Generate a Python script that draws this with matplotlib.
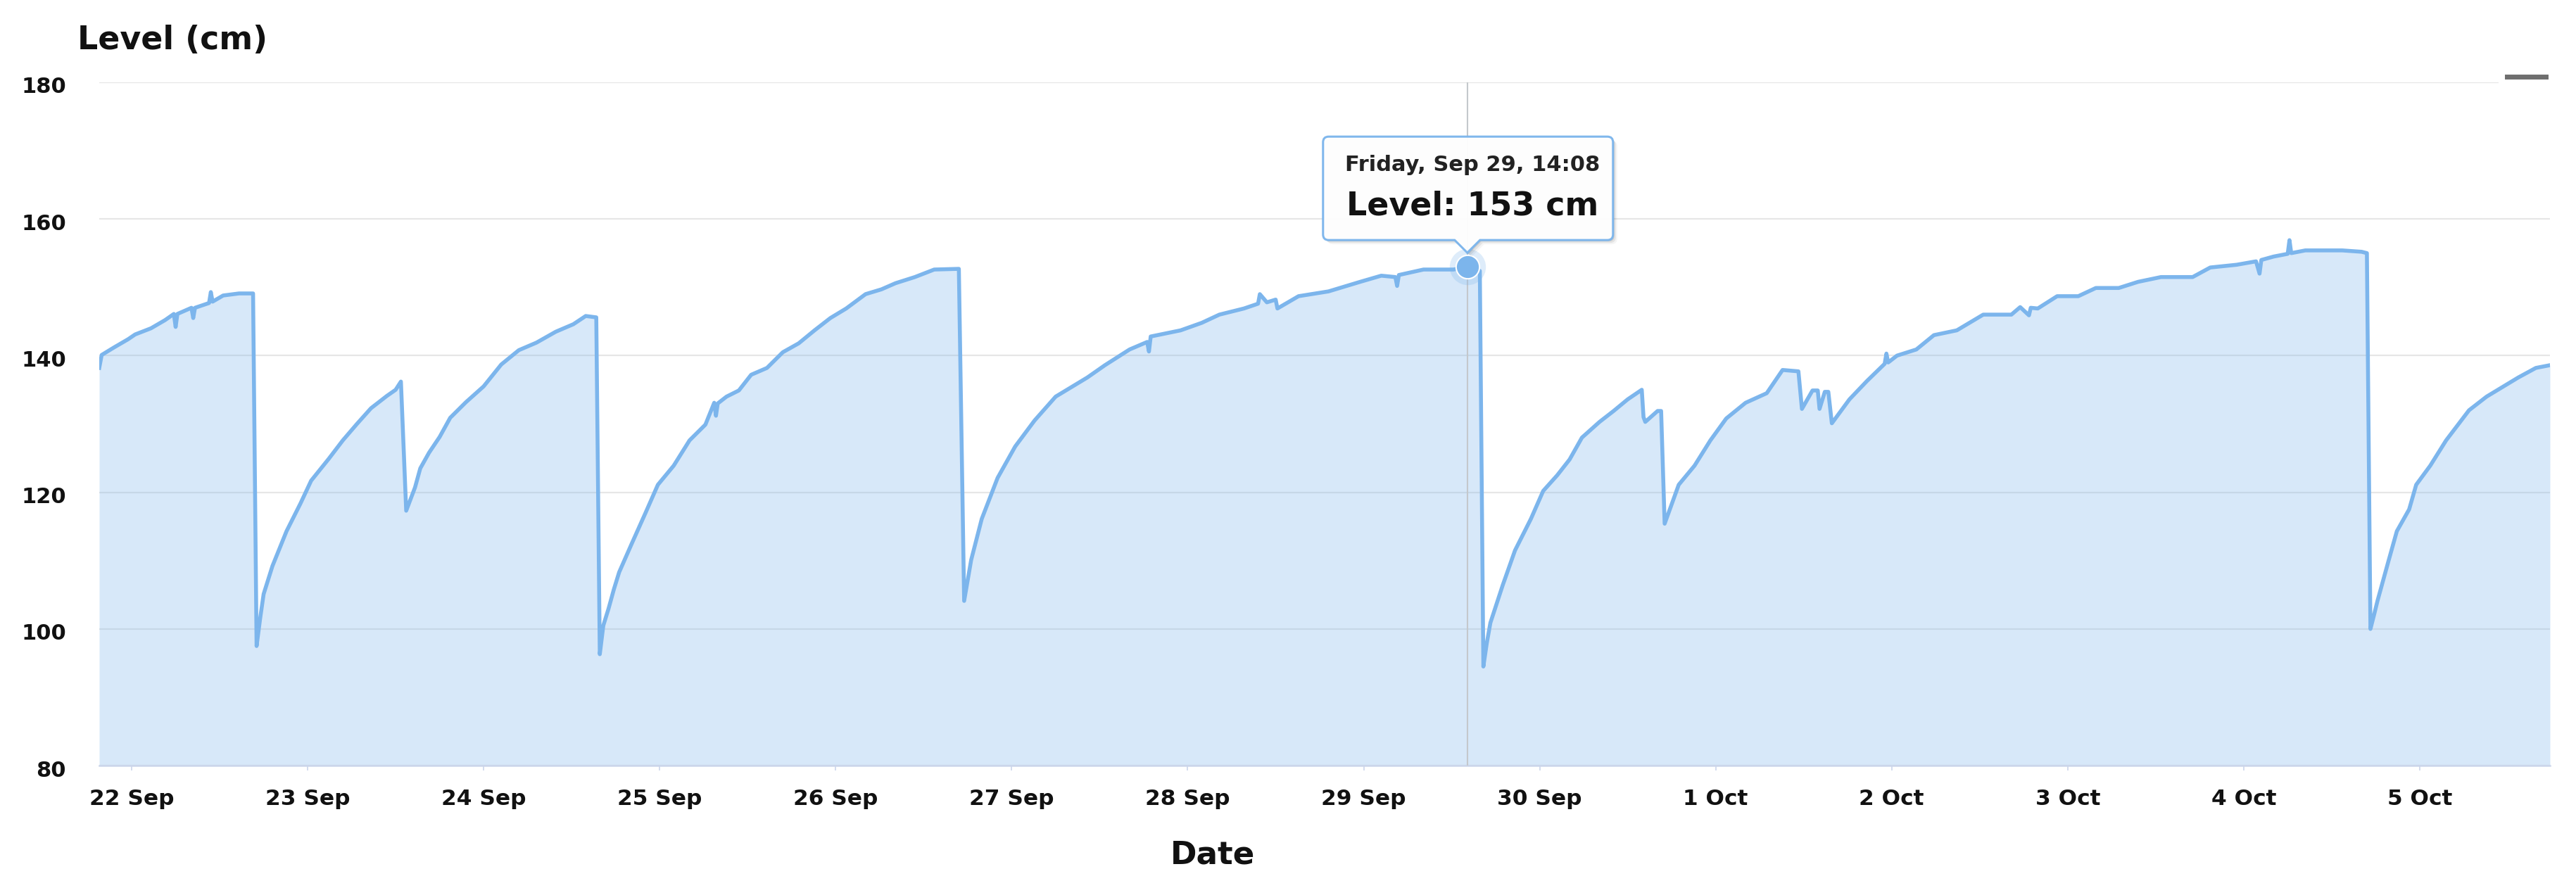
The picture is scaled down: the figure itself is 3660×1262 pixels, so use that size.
import matplotlib
matplotlib.use("Agg")
import matplotlib.pyplot as plt
import matplotlib.dates as mdates
import pandas as pd
from matplotlib.path import Path
from matplotlib.patches import PathPatch, Rectangle
from matplotlib.transforms import IdentityTransform, ScaledTranslation

# level readings, time given as days after 22 Sep 2023 00:00
day_offset = [
    -0.184, -0.17, -0.10, -0.02, 0.02, 0.11, 0.19, 0.24, 0.25, 0.26, 0.34, 0.35, 0.36, 0.44, 0.45, 0.46, 0.52, 0.61, 0.69,
    0.71, 0.73, 0.75, 0.80, 0.88, 0.96, 1.02, 1.12, 1.20, 1.28, 1.36, 1.45, 1.50, 1.53,
    1.56, 1.61, 1.64, 1.69, 1.75, 1.81, 1.90, 2.00, 2.10, 2.20, 2.30, 2.41, 2.51, 2.58, 2.64,
    2.66, 2.68, 2.71, 2.74, 2.77, 2.84, 2.92, 2.99, 3.08, 3.17, 3.26, 3.31, 3.32, 3.33, 3.38, 3.45, 3.52, 3.61, 3.70, 3.79,
    3.88, 3.97, 4.06, 4.17, 4.26, 4.34, 4.45, 4.56, 4.70,
    4.73, 4.77, 4.83, 4.92, 5.02, 5.13, 5.25, 5.43, 5.53, 5.67, 5.77, 5.78, 5.79, 5.96, 6.08, 6.18, 6.32, 6.40,
    6.41, 6.45, 6.50, 6.51, 6.63, 6.80, 6.98, 7.10, 7.18, 7.19, 7.20, 7.34, 7.51, 7.589, 7.66,
    7.68, 7.70, 7.72, 7.79, 7.86, 7.95, 8.02, 8.10, 8.17, 8.24, 8.34, 8.42, 8.50, 8.58, 8.59, 8.60, 8.67, 8.69,
    8.71, 8.79, 8.88, 8.97, 9.06, 9.17, 9.29, 9.38, 9.47, 9.49, 9.55, 9.58, 9.59, 9.62, 9.64, 9.66, 9.76, 9.86,
    9.96, 9.97, 9.98, 10.03, 10.14, 10.24, 10.37, 10.52, 10.68, 10.73, 10.78, 10.79, 10.83, 10.94, 11.06, 11.16,
    11.29, 11.40, 11.53, 11.71, 11.81, 11.96, 12.07, 12.09, 12.10, 12.17, 12.25, 12.26, 12.27, 12.35, 12.56,
    12.67, 12.70,
    12.72, 12.74, 12.76, 12.82, 12.87, 12.94, 12.98, 13.06, 13.15, 13.28, 13.38, 13.56, 13.66, 13.74,
]
level_cm = [
    138.2, 140.1, 141.2, 142.4, 143.1, 144.0, 145.2, 146.1, 144.2, 146.1, 147.0, 145.5, 147.0, 147.7, 149.3, 147.9, 148.8, 149.1, 149.1,
    97.5, 101.5, 105.1, 109.2, 114.3, 118.4, 121.7, 124.9, 127.6, 130.0, 132.3, 134.1, 135.0, 136.2,
    117.3, 120.7, 123.5, 125.8, 128.1, 130.9, 133.2, 135.5, 138.7, 140.8, 141.9, 143.5, 144.6, 145.8, 145.6,
    96.3, 100.5, 103.0, 105.8, 108.3, 112.4, 117.0, 121.1, 123.9, 127.6, 129.9, 133.1, 131.2, 133.0, 134.0, 134.9, 137.2, 138.2, 140.5, 141.8,
    143.7, 145.5, 146.9, 149.0, 149.7, 150.6, 151.5, 152.6, 152.7,
    104.1, 110.1, 116.1, 122.1, 126.7, 130.5, 134.0, 136.8, 138.6, 140.9, 142.0, 140.6, 142.8, 143.7, 144.8, 146.0, 146.9, 147.6,
    149.0, 147.8, 148.2, 146.9, 148.7, 149.4, 150.8, 151.7, 151.5, 150.2, 151.8, 152.6, 152.6, 153.0, 152.4,
    94.5, 98.0, 100.9, 106.4, 111.5, 116.1, 120.2, 122.5, 124.8, 128.0, 130.3, 131.9, 133.6, 135.0, 131.0, 130.3, 131.9, 131.9,
    115.4, 121.1, 123.9, 127.6, 130.8, 133.1, 134.5, 137.9, 137.7, 132.2, 134.9, 134.9, 132.2, 134.7, 134.7, 130.1, 133.6, 136.3,
    138.8, 140.3, 139.0, 140.0, 140.9, 143.0, 143.7, 146.0, 146.0, 147.1, 145.9, 147.0, 146.9, 148.7, 148.7, 149.9,
    149.9, 150.8, 151.5, 151.5, 152.9, 153.3, 153.8, 152.0, 154.0, 154.5, 154.9, 156.9, 155.0, 155.4, 155.4,
    155.2, 155.0,
    100.0, 102.0, 104.1, 109.7, 114.3, 117.5, 121.1, 123.9, 127.6, 132.0, 134.0, 136.8, 138.2, 138.6,
]
y_ticks = [80, 100, 120, 140, 160, 180]
tooltip_time = "2023-09-29 14:08"
tooltip_level = 153
tooltip_title = "Friday, Sep 29, 14:08"
tooltip_text = "Level: 153 cm"

W, H = 3660, 1262
line_color = "#7cb5ec"

start = pd.Timestamp("2023-09-22")
times = start + pd.to_timedelta(day_offset, unit="D")
x = mdates.date2num(times.to_pydatetime())

fig = plt.figure(figsize=(W / 100, H / 100), dpi=100)
ax = fig.add_axes([141 / W, 1 - 1088 / H, (3623 - 141) / W, (1088 - 117) / H])

ax.fill_between(x, level_cm, 80, color=line_color, alpha=0.3, lw=0, zorder=2)
ax.plot(x, level_cm, color=line_color, lw=4.0, zorder=3, solid_joinstyle="round")

ax.set_ylim(80, 180)
ax.set_yticks(y_ticks)
ax.set_xlim(x[0], x[-1])
ax.xaxis.set_major_locator(mdates.DayLocator())
ax.xaxis.set_major_formatter(mdates.DateFormatter("%-d %b"))

ax.yaxis.grid(True, color="#e6e6e6", lw=1.6)
ax.set_axisbelow(True)
for s in ["left", "right", "top"]:
    ax.spines[s].set_visible(False)
ax.spines["bottom"].set_color("#ccd6eb")
ax.spines["bottom"].set_linewidth(1.8)

ax.tick_params(axis="y", length=0, pad=34, labelsize=22, labelcolor="#111111")
ax.tick_params(axis="x", length=5, width=1.2, color="#ccd6eb", pad=19, labelsize=22.5, labelcolor="#111111")
for lab in ax.get_yticklabels() + ax.get_xticklabels():
    lab.set_fontweight("bold")
for lab in ax.get_yticklabels():
    lab.set_transform(lab.get_transform() + ScaledTranslation(0, -4 / 100, fig.dpi_scale_trans))

fig.text(110 / W, 1 - 70 / H, "Level (cm)", fontsize=33, fontweight="bold", color="#111111", va="baseline")
fig.text(1723 / W, 1 - 1227 / H, "Date", fontsize=32.5, fontweight="bold", color="#111111",
         ha="center", va="baseline")

# legend corner: gap in the top gridline and a small grey dash
fig.patches.append(Rectangle((3550, H - 125), 100, 30, transform=IdentityTransform(),
                             facecolor="white", edgecolor="none", zorder=5))
fig.lines.append(plt.Line2D([3562, 3617], [H - 109, H - 109], transform=IdentityTransform(),
                            color="#6e6e6e", lw=5, zorder=6))

# hovered point, crosshair and tooltip
xt = mdates.date2num(pd.Timestamp(tooltip_time).to_pydatetime())
ax.axvline(xt, color="#c4c8cc", lw=1.5, zorder=4)
ax.plot(xt, tooltip_level, "o", ms=37, color=line_color, alpha=0.25, mec="none", zorder=5)
ax.plot(xt, tooltip_level, "o", ms=24, mfc=line_color, mec="white", mew=1.5, zorder=6)

xd, yd = ax.transData.transform((xt, tooltip_level))
x0, x1 = xd - 205, xd + 207
yb, yt = yd + 38, yd + 185
ytip, hw, r = yd + 20, 18, 8
verts = [(x0 + r, yb), (xd - hw, yb), (xd, ytip), (xd + hw, yb), (x1 - r, yb),
         (x1, yb), (x1, yb + r), (x1, yt - r), (x1, yt), (x1 - r, yt),
         (x0 + r, yt), (x0, yt), (x0, yt - r), (x0, yb + r), (x0, yb), (x0 + r, yb), (x0 + r, yb)]
codes = [Path.MOVETO, Path.LINETO, Path.LINETO, Path.LINETO, Path.LINETO,
         Path.CURVE3, Path.CURVE3, Path.LINETO, Path.CURVE3, Path.CURVE3,
         Path.LINETO, Path.CURVE3, Path.CURVE3, Path.LINETO, Path.CURVE3, Path.CURVE3, Path.CLOSEPOLY]
for i, a in enumerate([0.10, 0.07, 0.04]):
    d = 2 * (i + 1)
    sh = Path([(vx + d, vy - d) for vx, vy in verts], codes)
    fig.patches.append(PathPatch(sh, transform=IdentityTransform(), facecolor="black",
                                 edgecolor="none", alpha=a, zorder=7))
fig.patches.append(PathPatch(Path(verts, codes), transform=IdentityTransform(), facecolor="white",
                             edgecolor=line_color, lw=2.2, alpha=0.97, zorder=8))
fig.text(xd + 7, yd + 145, tooltip_title, transform=IdentityTransform(), fontsize=22,
         fontweight="bold", color="#222222", ha="center", va="center", zorder=9)
fig.text(xd + 7, yd + 86, tooltip_text, transform=IdentityTransform(), fontsize=33,
         fontweight="bold", color="#111111", ha="center", va="center", zorder=9)

fig.savefig("out.png", dpi=100)
